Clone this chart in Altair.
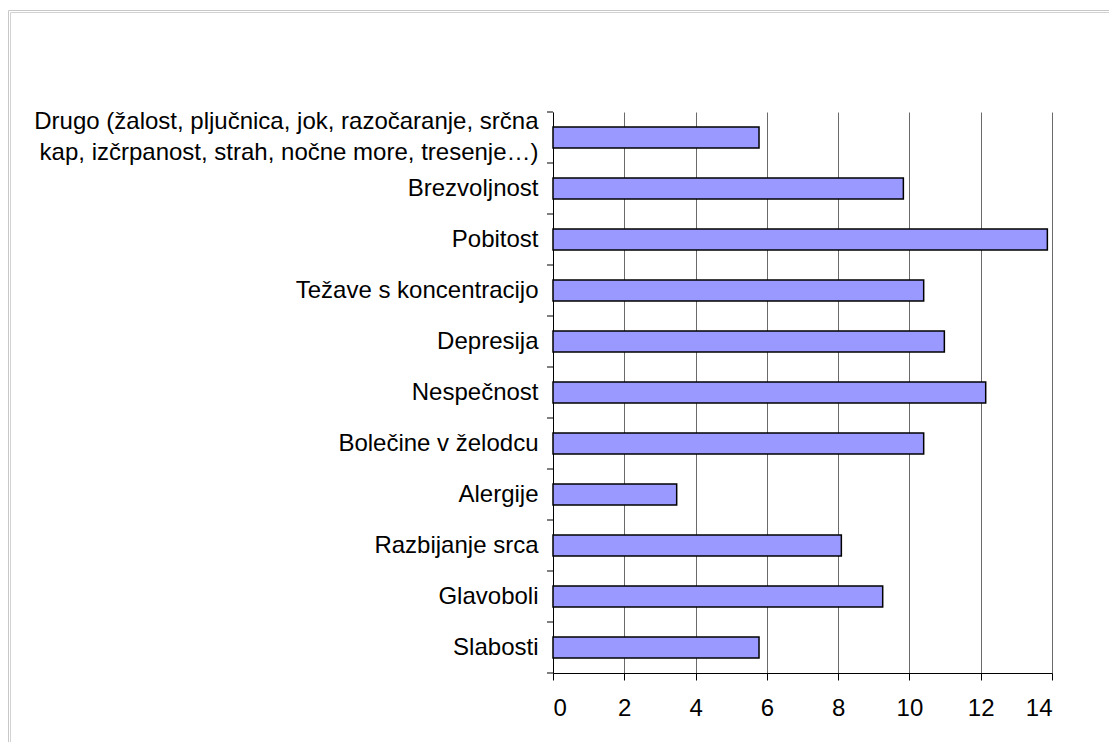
import altair as alt
import pandas as pd

# Reported symptoms (share of answers, %), listed top to bottom
categories = [
    "Drugo (žalost, pljučnica, jok, razočaranje, srčna|kap, izčrpanost, strah, nočne more, tresenje…)",
    "Brezvoljnost",
    "Pobitost",
    "Težave s koncentracijo",
    "Depresija",
    "Nespečnost",
    "Bolečine v želodcu",
    "Alergije",
    "Razbijanje srca",
    "Glavoboli",
    "Slabosti",
]
values = [5.78, 9.83, 13.87, 10.40, 10.98, 12.14, 10.40, 3.47, 8.09, 9.25, 5.78]
x_ticks = [0, 2, 4, 6, 8, 10, 12, 14]

df = pd.DataFrame({"simptom": categories, "delez": values})

FONT = "Liberation Sans"
FS = 24
LINE_H = 31
W, H = 499, 561

y_scale = alt.Scale(paddingInner=0, paddingOuter=0)
y_axis = alt.Axis(
    title=None, ticks=False,
    domainColor="black", domainWidth=1,
    labelFont=FONT, labelFontSize=FS, labelColor="black",
    labelPadding=15, labelLimit=700, labelLineHeight=LINE_H,
    labelExpr="split(datum.label, '|')",
    # two-line labels are lifted by half a line so they stay centred on the bar
    labelOffset={
        "condition": {"test": "indexof(datum.label, '|') >= 0", "value": -LINE_H / 2},
        "value": 0,
    },
)

bars = alt.Chart(df).mark_bar(
    size=21, color="#9999FF", stroke="black", strokeWidth=1.5
).encode(
    x=alt.X(
        "delez:Q",
        scale=alt.Scale(domain=[0, 14], nice=False),
        axis=alt.Axis(
            values=x_ticks, title=None, format="d",
            grid=True, gridColor="#6a6a6a", gridWidth=1,
            domainColor="black", domainWidth=1,
            tickColor="black", tickSize=7, tickWidth=1,
            labelFont=FONT, labelFontSize=FS, labelColor="black",
            labelPadding=16,
        ),
    ),
    y=alt.Y("simptom:N", sort=categories, scale=y_scale, axis=y_axis),
)

# category ticks sit on the band boundaries, pointing left
band_ticks = alt.Chart(df).mark_rule(color="black", strokeWidth=1).encode(
    y=alt.Y("simptom:N", sort=categories, scale=y_scale, bandPosition=0, axis=y_axis),
    x=alt.value(-6),
    x2=alt.value(0),
)

one = pd.DataFrame({"k": [0]})

# closing tick at the bottom of the category axis
end_tick = alt.Chart(one).mark_rule(color="black", strokeWidth=1).encode(
    x=alt.value(-6), x2=alt.value(0), y=alt.value(H)
)

# light double frame around the chart area
frame_outer = alt.Chart(one).mark_rect(
    fillOpacity=0, stroke="#c8c8c8", strokeWidth=1
).encode(
    x=alt.value(-544.5), x2=alt.value(800), y=alt.value(-101.5), y2=alt.value(800)
)
frame_inner = alt.Chart(one).mark_rect(
    fillOpacity=0, stroke="#d2d2d2", strokeWidth=1
).encode(
    x=alt.value(-542.5), x2=alt.value(800), y=alt.value(-99.5), y2=alt.value(800)
)

chart = alt.layer(frame_outer, frame_inner, bars, band_ticks, end_tick).properties(
    width=W,
    height=H,
    padding={"left": 553, "top": 112, "right": 57, "bottom": 69},
    autosize=alt.AutoSizeParams(type="none"),
    background="white",
).configure_view(strokeWidth=0)

chart.save("out.html", embed_options={"renderer": "svg", "actions": False})
